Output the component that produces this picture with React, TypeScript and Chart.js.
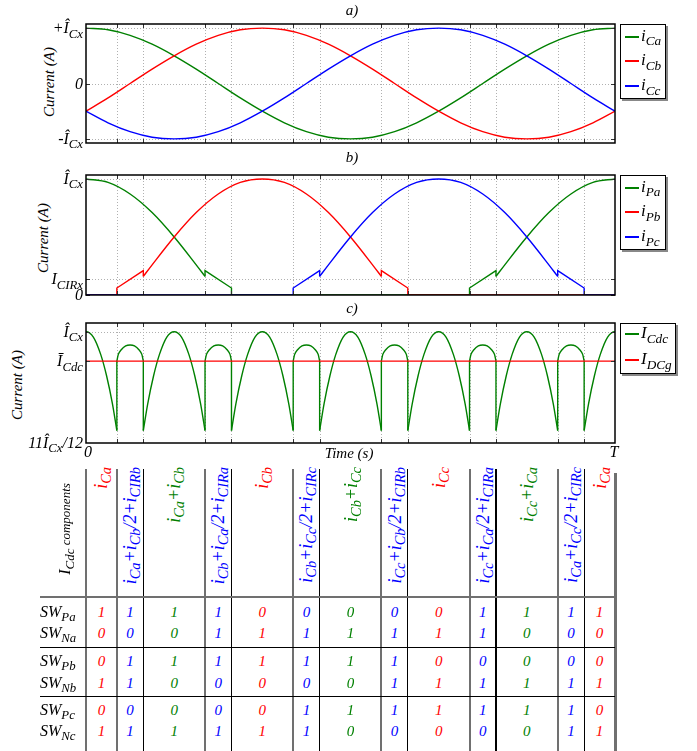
import React, { useEffect, useRef } from "react";
import { Chart, registerables } from "chart.js";
Chart.register(...registerables);

// ================= DATA =================
// time axis expressed in electrical degrees of one period T (0..360)
const SWITCH_DEG = [21, 39, 81, 99, 141, 159, 201, 219, 261, 279, 321, 339];

// (a) capacitor-side phase currents (units of Î_Cx)
const A_DEG = [0, 15, 30, 45, 60, 75, 90, 105, 120, 135, 150, 165, 180, 195, 210, 225, 240, 255, 270, 285, 300, 315, 330, 345, 360];
const A_ICA = [1, 0.97, 0.87, 0.71, 0.5, 0.26, 0, -0.26, -0.5, -0.71, -0.87, -0.97, -1, -0.97, -0.87, -0.71, -0.5, -0.26, 0, 0.26, 0.5, 0.71, 0.87, 0.97, 1];
const A_ICB = [-0.5, -0.26, 0, 0.26, 0.5, 0.71, 0.87, 0.97, 1, 0.97, 0.87, 0.71, 0.5, 0.26, 0, -0.26, -0.5, -0.71, -0.87, -0.97, -1, -0.97, -0.87, -0.71, -0.5];
const A_ICC = [-0.5, -0.71, -0.87, -0.97, -1, -0.97, -0.87, -0.71, -0.5, -0.26, 0, 0.26, 0.5, 0.71, 0.87, 0.97, 1, 0.97, 0.87, 0.71, 0.5, 0.26, 0, -0.26, -0.5];

// (b) positive-rail currents
const B_PA_C1_X = [0, 15, 30, 45, 60, 75, 81];
const B_PA_C1_Y = [1, 0.97, 0.87, 0.71, 0.5, 0.26, 0.16];
const B_PA_L_X = [81, 81, 99, 99, 261, 261, 279, 279];
const B_PA_L_Y = [0.16, 0.21, 0.06, 0, 0, 0.06, 0.21, 0.16];
const B_PA_C2_X = [279, 285, 300, 315, 330, 345, 360];
const B_PA_C2_Y = [0.16, 0.26, 0.5, 0.71, 0.87, 0.97, 1];

const B_PB_L1_X = [0, 21, 21, 39, 39];
const B_PB_L1_Y = [0, 0, 0.06, 0.21, 0.16];
const B_PB_C_X = [39, 45, 60, 75, 90, 105, 120, 135, 150, 165, 180, 195, 201];
const B_PB_C_Y = [0.16, 0.26, 0.5, 0.71, 0.87, 0.97, 1, 0.97, 0.87, 0.71, 0.5, 0.26, 0.16];
const B_PB_L2_X = [201, 201, 219, 219, 360];
const B_PB_L2_Y = [0.16, 0.21, 0.06, 0, 0];

const B_PC_L1_X = [0, 141, 141, 159, 159];
const B_PC_L1_Y = [0, 0, 0.06, 0.21, 0.16];
const B_PC_C_X = [159, 165, 180, 195, 210, 225, 240, 255, 270, 285, 300, 315, 321];
const B_PC_C_Y = [0.16, 0.26, 0.5, 0.71, 0.87, 0.97, 1, 0.97, 0.87, 0.71, 0.5, 0.26, 0.16];
const B_PC_L2_X = [321, 321, 339, 339, 360];
const B_PC_L2_Y = [0.16, 0.21, 0.06, 0, 0];

// (c) DC-link capacitor current
const C_IDC = 0.978;
const C_BIG_OFF = [0, 3, 7, 11, 16, 21, 26, 31, 35, 39, 42];
const C_BIG_VAL = [0.926, 0.946, 0.967, 0.983, 0.996, 1, 0.996, 0.983, 0.967, 0.946, 0.926];
const C_BIG_START = [-21, 39, 99, 159, 219, 279, 339];
const C_SMALL_OFF = [0, 1, 3, 6, 9, 12, 15, 17, 18];
const C_SMALL_VAL = [0.978, 0.983, 0.9865, 0.9893, 0.99, 0.9893, 0.9865, 0.983, 0.978];
const C_SMALL_START = [21, 81, 141, 201, 261, 321];

// axis ticks
const A_TICKS = [1, 0, -1];
const A_TICK_LABELS = ["+Î_{Cx}", "0", "-Î_{Cx}"];
const B_TICKS = [1, 0.135, 0];
const B_TICK_LABELS = ["Î_{Cx}", "I_{CIRx}", "0"];
const C_TICKS = [1, 0.978, 0.9167];
const C_TICK_LABELS = ["Î_{Cx}", "Ī_{Cdc}", "11Î_{Cx}/12"];

const LEG_A = ["i_{Ca}", "i_{Cb}", "i_{Cc}"];
const LEG_B = ["i_{Pa}", "i_{Pb}", "i_{Pc}"];
const LEG_C = ["I_{Cdc}", "I_{DCg}"];

// table
const COMPONENTS = [
  "i_{Ca}", "i_{Ca}+i_{Cb}/2+i_{CIRb}", "i_{Ca}+i_{Cb}", "i_{Cb}+i_{Ca}/2+i_{CIRa}",
  "i_{Cb}", "i_{Cb}+i_{Cc}/2+i_{CIRc}", "i_{Cb}+i_{Cc}", "i_{Cc}+i_{Cb}/2+i_{CIRb}",
  "i_{Cc}", "i_{Cc}+i_{Ca}/2+i_{CIRa}", "i_{Cc}+i_{Ca}", "i_{Ca}+i_{Cc}/2+i_{CIRc}", "i_{Ca}",
];
const ROW_LABELS = ["SW_{Pa}", "SW_{Na}", "SW_{Pb}", "SW_{Nb}", "SW_{Pc}", "SW_{Nc}"];
const SW_PA = [1, 1, 1, 1, 0, 0, 0, 0, 0, 1, 1, 1, 1];
const SW_NA = [0, 0, 0, 1, 1, 1, 1, 1, 1, 1, 0, 0, 0];
const SW_PB = [0, 1, 1, 1, 1, 1, 1, 1, 0, 0, 0, 0, 0];
const SW_NB = [1, 1, 0, 0, 0, 0, 0, 1, 1, 1, 1, 1, 1];
const SW_PC = [0, 0, 0, 0, 0, 1, 1, 1, 1, 1, 1, 1, 0];
const SW_NC = [1, 1, 1, 1, 1, 1, 0, 0, 0, 0, 0, 1, 1];
const SW_TABLE = [SW_PA, SW_NA, SW_PB, SW_NB, SW_PC, SW_NC];

// ================= STYLE / LAYOUT =================
const GREEN = "#008000";
const RED = "#ff0000";
const BLUE = "#0000ff";
const COL_COLORS = [RED, BLUE, GREEN, BLUE, RED, BLUE, GREEN, BLUE, RED, BLUE, GREEN, BLUE, RED];
const FONT = '"Liberation Serif", "Times New Roman", Times, serif';
const PAD = 6;

type Rect = { x: number; y: number; w: number; h: number; min: number; max: number };
const PA: Rect = { x: 86, y: 24, w: 529, h: 119, min: -1.075, max: 1.075 };
const PB: Rect = { x: 86, y: 175, w: 529, h: 120, min: 0, max: 1.034 };
const PC: Rect = { x: 86, y: 323, w: 529, h: 120, min: 0.9167, max: 1.0065 };

const xPix = (d: number) => 86 + (d / 360) * 529;
const yPix = (r: Rect, v: number) => r.y + ((r.max - v) / (r.max - r.min)) * r.h;

function ds(xs: number[], ys: number[], color: string, order: number, smooth: boolean) {
  return {
    data: xs.map((x, i) => ({ x, y: ys[i] })),
    borderColor: color,
    backgroundColor: color,
    borderWidth: 1.4,
    pointRadius: 0,
    fill: false,
    tension: 0,
    cubicInterpolationMode: smooth ? "monotone" : "default",
    order,
  };
}

function makeFrame(xGrid: number[], yGrid: number[], yTicks: number[]) {
  return {
    id: "frame",
    beforeDatasetsDraw(chart: any) {
      const { ctx, chartArea: a, scales } = chart;
      ctx.save();
      ctx.strokeStyle = "#b0b0b0";
      ctx.lineWidth = 1;
      ctx.setLineDash([1, 2]);
      for (const v of xGrid) {
        const p = Math.round(scales.x.getPixelForValue(v)) + 0.5;
        ctx.beginPath(); ctx.moveTo(p, a.top); ctx.lineTo(p, a.bottom); ctx.stroke();
      }
      for (const v of yGrid) {
        const p = Math.round(scales.y.getPixelForValue(v)) + 0.5;
        ctx.beginPath(); ctx.moveTo(a.left, p); ctx.lineTo(a.right, p); ctx.stroke();
      }
      ctx.restore();
    },
    afterDatasetsDraw(chart: any) {
      const { ctx, chartArea: a, scales } = chart;
      ctx.save();
      ctx.strokeStyle = "#333";
      ctx.lineWidth = 1;
      for (const v of xGrid) {
        const p = Math.round(scales.x.getPixelForValue(v)) + 0.5;
        ctx.beginPath(); ctx.moveTo(p, a.top); ctx.lineTo(p, a.top + 4); ctx.stroke();
        ctx.beginPath(); ctx.moveTo(p, a.bottom); ctx.lineTo(p, a.bottom - 4); ctx.stroke();
      }
      for (const v of yTicks) {
        const p = Math.round(scales.y.getPixelForValue(v)) + 0.5;
        ctx.beginPath(); ctx.moveTo(a.left, p); ctx.lineTo(a.left + 4, p); ctx.stroke();
        ctx.beginPath(); ctx.moveTo(a.right, p); ctx.lineTo(a.right - 4, p); ctx.stroke();
      }
      ctx.strokeStyle = "#000";
      ctx.lineWidth = 1.5;
      ctx.strokeRect(a.left, a.top, a.right - a.left, a.bottom - a.top);
      ctx.restore();
    },
  };
}

function Plot({ r, datasets, yGrid, yTicks }: { r: Rect; datasets: any[]; yGrid: number[]; yTicks: number[] }) {
  const ref = useRef<HTMLCanvasElement | null>(null);
  useEffect(() => {
    if (!ref.current) return;
    const chart = new Chart(ref.current, {
      type: "line",
      data: { datasets } as any,
      options: {
        animation: false,
        responsive: false,
        maintainAspectRatio: false,
        events: [],
        layout: { padding: PAD },
        scales: {
          x: { type: "linear", min: 0, max: 360, display: false },
          y: { type: "linear", min: r.min, max: r.max, display: false },
        },
        plugins: { legend: { display: false }, tooltip: { enabled: false } },
      } as any,
      plugins: [makeFrame(SWITCH_DEG, yGrid, yTicks)],
    });
    return () => chart.destroy();
  }, []);
  return (
    <canvas
      ref={ref}
      width={r.w + 2 * PAD}
      height={r.h + 2 * PAD}
      style={{ position: "absolute", left: r.x - PAD, top: r.y - PAD, width: r.w + 2 * PAD, height: r.h + 2 * PAD }}
    />
  );
}

function Tex({ s, subScale = 0.8, drop = 0.35 }: { s: string; subScale?: number; drop?: number }) {
  const out: React.ReactNode[] = [];
  const re = /_\{([^}]*)\}/g;
  let last = 0;
  let m: RegExpExecArray | null;
  let k = 0;
  while ((m = re.exec(s)) !== null) {
    if (m.index > last) out.push(<span key={k++}>{s.slice(last, m.index)}</span>);
    out.push(
      <span key={k++} style={{ fontSize: `${subScale}em`, position: "relative", top: `${drop}em` }}>
        {m[1]}
      </span>
    );
    last = m.index + m[0].length;
  }
  if (last < s.length) out.push(<span key={k++}>{s.slice(last)}</span>);
  return <>{out}</>;
}

function Label({ x, y, s, size = 16, color = "#000", ax = "c", rot = false, sub = 0.8 }:
  { x: number; y: number; s: string; size?: number; color?: string; ax?: string; rot?: boolean; sub?: number }) {
  const tx = ax === "l" ? "0%" : ax === "r" ? "-100%" : "-50%";
  const transform = rot ? "translate(-50%,-50%) rotate(-90deg)" : `translate(${tx},-50%)`;
  return (
    <div style={{ position: "absolute", left: x, top: y, transform, fontSize: size, lineHeight: `${size}px`, color, whiteSpace: "nowrap" }}>
      <Tex s={s} subScale={sub} />
    </div>
  );
}

function Legend({ x, y, w, h, labels, colors, rows }: { x: number; y: number; w: number; h: number; labels: string[]; colors: string[]; rows: number[] }) {
  return (
    <div style={{ position: "absolute", left: x, top: y, width: w, height: h, border: "1px solid #000", boxShadow: "2px 2px 0 #888", background: "#fff", boxSizing: "border-box" }}>
      {labels.map((l, i) => (
        <React.Fragment key={i}>
          <div style={{ position: "absolute", left: 4, top: Math.round(rows[i] - 2), width: 14, height: 2, background: colors[i] }} />
          <Label x={20} y={rows[i] - 2} s={l} size={17} ax="l" sub={0.78} />
        </React.Fragment>
      ))}
    </div>
  );
}

export default function App() {
  const dsA = [
    ds(A_DEG, A_ICA, GREEN, 2, true),
    ds(A_DEG, A_ICB, RED, 1, true),
    ds(A_DEG, A_ICC, BLUE, 0, true),
  ];
  const dsB = [
    ds(B_PA_C1_X, B_PA_C1_Y, GREEN, 2, true),
    ds(B_PA_L_X, B_PA_L_Y, GREEN, 2, false),
    ds(B_PA_C2_X, B_PA_C2_Y, GREEN, 2, true),
    ds(B_PB_L1_X, B_PB_L1_Y, RED, 1, false),
    ds(B_PB_C_X, B_PB_C_Y, RED, 1, true),
    ds(B_PB_L2_X, B_PB_L2_Y, RED, 1, false),
    ds(B_PC_L1_X, B_PC_L1_Y, BLUE, 0, false),
    ds(B_PC_C_X, B_PC_C_Y, BLUE, 0, true),
    ds(B_PC_L2_X, B_PC_L2_Y, BLUE, 0, false),
  ];
  const dsC = [
    ds([0, 360], [C_IDC, C_IDC], RED, 0, false),
    ...C_BIG_START.map((s0) => ds(C_BIG_OFF.map((o) => s0 + o), C_BIG_VAL, GREEN, 1, true)),
    ...C_SMALL_START.map((s0) => ds(C_SMALL_OFF.map((o) => s0 + o), C_SMALL_VAL, GREEN, 1, true)),
    ...SWITCH_DEG.map((d) => ds([d, d], [C_BIG_VAL[0], C_SMALL_VAL[0]], GREEN, 1, false)),
  ];

  const colDeg = [0, ...SWITCH_DEG, 360];
  const colX = colDeg.map(xPix);
  const colCenters = colX.slice(0, -1).map((x, i) => (x + colX[i + 1]) / 2);
  const rowY = [612, 632.5, 660.5, 682.5, 709.5, 731];

  return (
    <div style={{ position: "absolute", left: 0, top: 0, width: 697, height: 751, background: "#fff", fontFamily: FONT, fontStyle: "italic", overflow: "hidden" }}>
      <Plot r={PA} datasets={dsA} yGrid={A_TICKS} yTicks={A_TICKS} />
      <Plot r={PB} datasets={dsB} yGrid={[B_TICKS[0], B_TICKS[1]]} yTicks={B_TICKS} />
      <Plot r={PC} datasets={dsC} yGrid={[C_TICKS[0]]} yTicks={[C_TICKS[0], C_TICKS[1]]} />

      {/* panel titles */}
      <Label x={352} y={10} s="a)" size={15} />
      <Label x={352} y={157} s="b)" size={15} />
      <Label x={352} y={308} s="c)" size={15} />

      {/* y axis titles */}
      <Label x={49} y={82} s="Current (A)" size={15} rot />
      <Label x={43} y={238} s="Current (A)" size={15} rot />
      <Label x={17} y={385} s="Current (A)" size={15} rot />

      {/* tick labels */}
      {A_TICKS.map((v, i) => <Label key={"a" + i} x={83} y={yPix(PA, v)} s={A_TICK_LABELS[i]} size={16} ax="r" />)}
      {B_TICKS.map((v, i) => <Label key={"b" + i} x={83} y={yPix(PB, v)} s={B_TICK_LABELS[i]} size={16} ax="r" />)}
      {C_TICKS.map((v, i) => <Label key={"c" + i} x={83} y={yPix(PC, v)} s={C_TICK_LABELS[i]} size={16} ax="r" />)}

      {/* x axis */}
      <Label x={88} y={452} s="0" size={16} />
      <Label x={349} y={453} s="Time (s)" size={15} />
      <Label x={614} y={452} s="T" size={16} />

      {/* legends */}
      <Legend x={620} y={24} w={46} h={75} labels={LEG_A} colors={[GREEN, RED, BLUE]} rows={[12.5, 37, 62]} />
      <Legend x={620} y={175} w={46} h={75} labels={LEG_B} colors={[GREEN, RED, BLUE]} rows={[12.7, 37.3, 62.3]} />
      <Legend x={620} y={323} w={56} h={51} labels={LEG_C} colors={[GREEN, RED]} rows={[11.3, 37.3]} />

      {/* table: vertical lines */}
      {colX.slice(0, -1).map((x, i) => {
        const gray = i === 0 || i % 2 === 1;
        const w = gray ? 2 : 1.2;
        return <div key={"v" + i} style={{ position: "absolute", left: x - w / 2, top: 469, width: w, height: 751 - 469, background: gray ? "#707070" : "#000" }} />;
      })}
      <div style={{ position: "absolute", left: 614, top: 473, width: 2.5, height: 751 - 473, background: "#707070" }} />
      {/* horizontal lines */}
      <div style={{ position: "absolute", left: 40, top: 596, width: 575, height: 2, background: "#707070" }} />
      <div style={{ position: "absolute", left: 40, top: 646.5, width: 575, height: 1.2, background: "#000" }} />
      <div style={{ position: "absolute", left: 40, top: 695.5, width: 575, height: 1.2, background: "#000" }} />

      {/* header */}
      <div style={{ position: "absolute", left: 65, top: 529, transform: "translate(-50%,-50%) rotate(-90deg)", fontSize: 16, lineHeight: "16px", whiteSpace: "nowrap" }}>
        I<span style={{ fontSize: 13, position: "relative", top: 4 }}>Cdc</span>
        <span style={{ fontSize: 13 }}> components</span>
      </div>
      {COMPONENTS.map((c, i) => (
        <div key={"h" + i} style={{ position: "absolute", left: colCenters[i], top: 467, transformOrigin: "0 0", transform: "rotate(-90deg) translate(-100%,-50%)", fontSize: 18, lineHeight: "18px", color: COL_COLORS[i], whiteSpace: "nowrap" }}>
          <Tex s={c} subScale={0.8} drop={0.3} />
        </div>
      ))}

      {/* row labels and cells */}
      {ROW_LABELS.map((l, r) => (
        <React.Fragment key={"r" + r}>
          <Label x={40} y={rowY[r]} s={l} size={16} ax="l" />
          {SW_TABLE[r].map((v, c) => (
            <Label key={"c" + c} x={colCenters[c]} y={rowY[r]} s={String(v)} size={15} color={COL_COLORS[c]} />
          ))}
        </React.Fragment>
      ))}
    </div>
  );
}
